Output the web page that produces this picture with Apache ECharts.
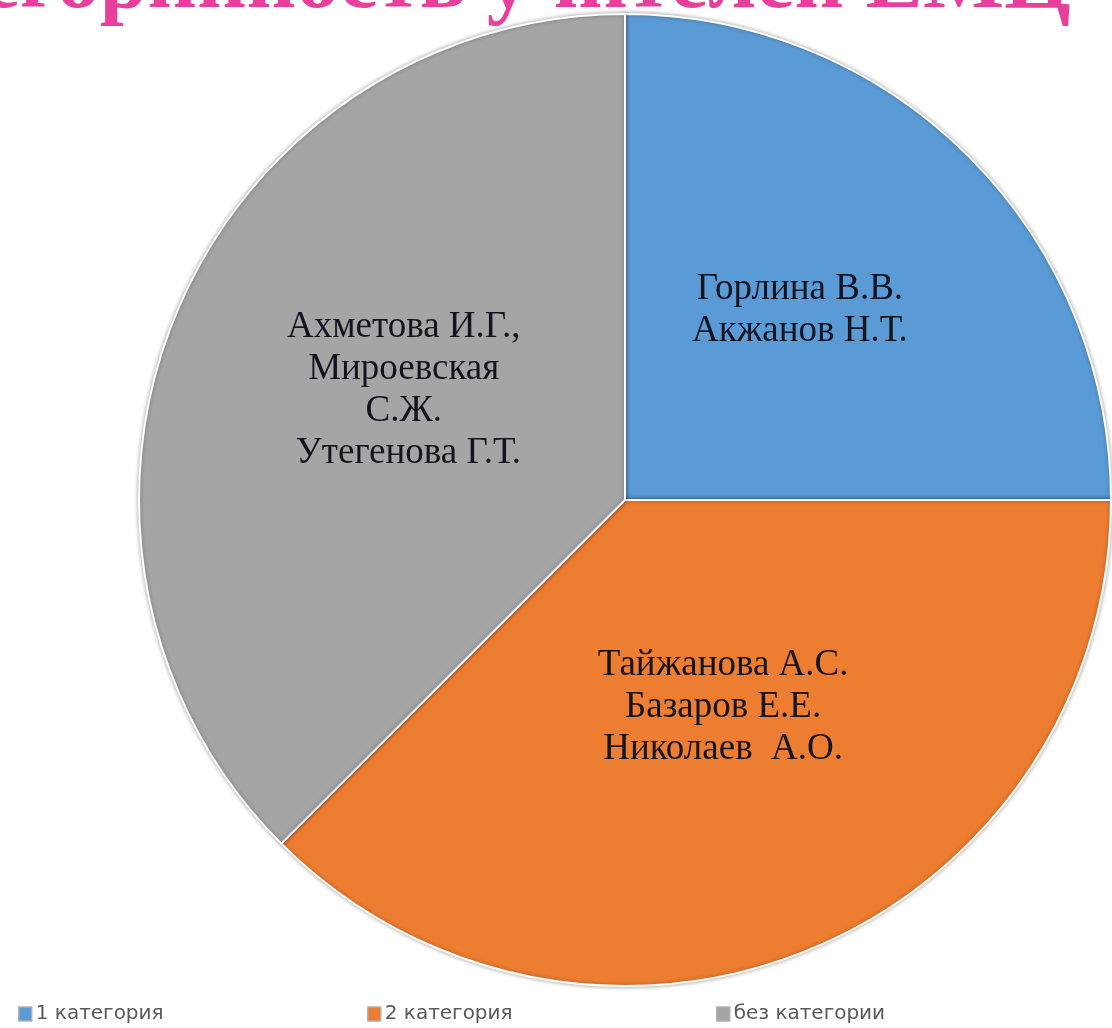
<!DOCTYPE html>
<html>
<head>
<meta charset="utf-8">
<script src="https://cdn.jsdelivr.net/npm/echarts@6/dist/echarts.min.js"></script>
<style>
html,body{margin:0;padding:0;background:#fff;}
#c{width:1112px;height:1028px;}
</style>
</head>
<body>
<div id="c"></div>
<script>
const titleText = 'Категорийность учителей ЕМЦ';
const categories = ['1 категория', '2 категория', 'без категории'];
const values = [2, 3, 3];
const names = [
  'Горлина В.В.\nАкжанов Н.Т.',
  'Тайжанова А.С.\nБазаров Е.Е.\nНиколаев  А.О.',
  'Ахметова И.Г.,\nМироевская\nС.Ж.\n Утегенова Г.Т.'
];
const colors = ['#5B9BD5', '#ED7D31', '#A5A5A5'];
const labelOffsets = [[1, -16], [4, -20], [6, -16]];
const legendLefts = [13, 362, 711];

const chart = echarts.init(document.getElementById('c'), null, {renderer: 'canvas'});
const data = categories.map((c, i) => ({
  name: c,
  value: values[i],
  itemStyle: {color: colors[i]},
  label: {offset: labelOffsets[i]}
}));
chart.setOption({
  backgroundColor: '#fff',
  animation: false,
  graphic: [{
    type: 'text',
    right: 41,
    top: -58,
    z: 10,
    style: {
      text: titleText,
      fill: '#E83E9C',
      font: 'bold 86px "Liberation Serif", "Times New Roman", serif'
    }
  }],
  legend: legendLefts.map((l, i) => ({
    data: [categories[i]],
    left: l,
    top: 999,
    itemWidth: 13,
    itemHeight: 14,
    itemGap: 5,
    icon: 'rect',
    itemStyle: {borderColor: '#b0b0b0', borderWidth: 1.5},
    textStyle: {color: '#595959', fontSize: 20, fontFamily: '"DejaVu Sans", Verdana, sans-serif', padding: [0, 0, 0, -1]}
  })),
  series: [{
    type: 'pie',
    center: [625, 500],
    radius: [0, 486],
    startAngle: 90,
    clockwise: true,
    data: data,
    itemStyle: {
      borderColor: '#fff',
      borderWidth: 2,
      shadowBlur: 4,
      shadowColor: 'rgba(0,0,0,0.35)'
    },
    label: {
      show: true,
      position: 'inside',
      formatter: p => names[p.dataIndex],
      color: '#141420',
      fontFamily: '"Liberation Serif", "Times New Roman", serif',
      fontSize: 37,
      lineHeight: 42,
      align: 'center'
    },
    labelLine: {show: false},
    emphasis: {disabled: true}
  }]
});
</script>
</body>
</html>
